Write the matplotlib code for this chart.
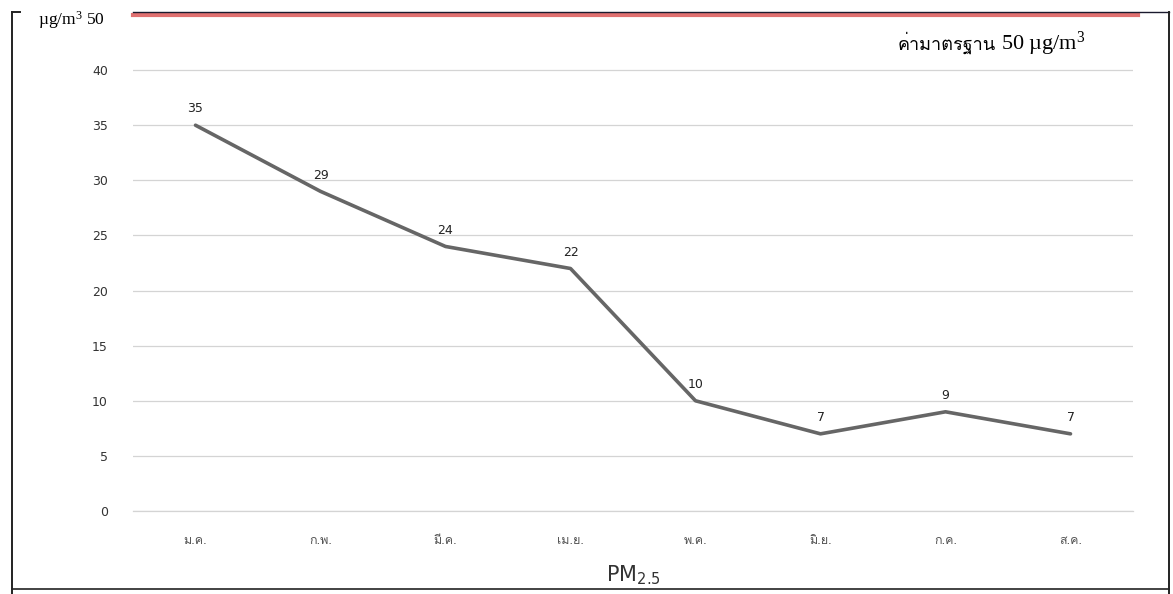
import matplotlib
matplotlib.use("Agg")
import matplotlib.pyplot as plt
from matplotlib import font_manager
from matplotlib.ft2font import FT2Font
from matplotlib.lines import Line2D

months = ["ม.ค.", "ก.พ.", "มี.ค.", "เม.ย.", "พ.ค.", "มิ.ย.", "ก.ค.", "ส.ค."]
pm25 = [35, 29, 24, 22, 10, 7, 9, 7]
yticks = [0, 5, 10, 15, 20, 25, 30, 35, 40]
standard_value = 50
xlabel = "PM$_{\\mathsf{2.5}}$"
unit = "µg/m$^{\\mathrm{3}}$"


def find_thai_font():
    preferred = []
    others = []
    for f in font_manager.fontManager.ttflist:
        try:
            ft = FT2Font(f.fname)
            if ft.get_char_index(ord("ค")) and ft.get_char_index(ord("ฐ")):
                if "Thai" in f.name or "Loma" in f.name or "Garuda" in f.name:
                    preferred.append(f.name)
                else:
                    others.append(f.name)
        except Exception:
            pass
    cands = preferred + others
    return cands[0] if cands else None


thai = find_thai_font()
thai_family = [thai, "DejaVu Sans"] if thai else ["DejaVu Sans"]
serif = ["Liberation Serif", "DejaVu Serif"]
plt.rcParams["font.family"] = thai_family
plt.rcParams["mathtext.fontset"] = "custom"
plt.rcParams["mathtext.rm"] = "Liberation Serif"
plt.rcParams["mathtext.it"] = "Liberation Serif:italic"
plt.rcParams["mathtext.sf"] = "DejaVu Sans"

W, H = 1173, 594
fig = plt.figure(figsize=(W / 100, H / 100), dpi=100)
ax = fig.add_axes([133 / W, (H - 511) / H, 1000 / W, (511 - 15) / H])

x = list(range(len(months)))
ax.plot(x, pm25, color="#666666", lw=2.6, solid_capstyle="round", zorder=3)
for xi, v in zip(x, pm25):
    ax.annotate(str(v), (xi, v), xytext=(0, 7), textcoords="offset points",
                ha="center", va="bottom", fontsize=9, color="#222222",
                family=["DejaVu Sans"])

ax.set_xlim(-0.5, len(months) - 0.5)
ax.set_ylim(0, 45)
ax.set_yticks(yticks)
ax.set_yticklabels([str(t) for t in yticks], fontsize=9, color="#333333",
                   family=["DejaVu Sans"])
ax.set_xticks(x)
ax.set_xticklabels(months, fontsize=9, color="#555555", family=thai_family)
ax.tick_params(axis="y", length=0, pad=18)
ax.tick_params(axis="x", length=0, pad=17)
ax.grid(axis="y", color="#d4d4d4", lw=0.9)
ax.axhline(0, color="#d4d4d4", lw=0.9, clip_on=False, zorder=1)
ax.set_axisbelow(True)
for s in ax.spines.values():
    s.set_visible(False)
ax.set_xlabel(xlabel, fontsize=15, color="#333333", labelpad=12,
              family=["DejaVu Sans"])

# standard line (50 µg/m³) drawn at top of plot area
ax.plot([0, 1.005], [1.0, 1.0], transform=ax.transAxes, color="#e07070", lw=3,
        clip_on=False, zorder=4)
fig.add_artist(Line2D([133 / W, 1169 / W], [(H - 12) / H, (H - 12) / H],
                      color="#1a1a2e", lw=1.0))
fig.text(38 / W, (H - 20) / H, unit + " " + str(standard_value), fontsize=12.5,
         family=serif, va="center", ha="left")
fig.text(1001 / W, (H - 44) / H, str(standard_value) + " " + unit,
         fontsize=16, family=serif, ha="left", va="center")
fig.text(996 / W, (H - 43) / H, "ค่ามาตรฐาน", fontsize=13,
         family=thai_family, ha="right", va="center")

# frame
fig.add_artist(Line2D([12 / W, 12 / W], [0 / H, (H - 12) / H], color="#222222", lw=1.4))
fig.add_artist(Line2D([12 / W, 20 / W], [(H - 12) / H, (H - 12) / H], color="#222222", lw=1.4))
fig.add_artist(Line2D([1169 / W, 1169 / W], [0, (H - 12) / H], color="#222222", lw=1.4))
fig.add_artist(Line2D([12 / W, 1169 / W], [5 / H, 5 / H], color="#222222", lw=1.2))

fig.savefig("out.png", dpi=100)
